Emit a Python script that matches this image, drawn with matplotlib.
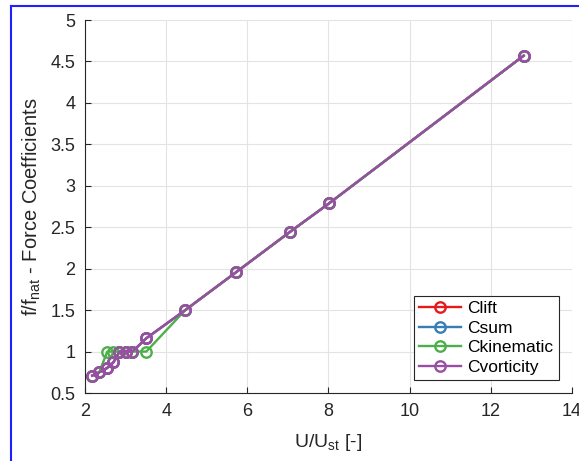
import numpy as np
import matplotlib
matplotlib.use("Agg")
import matplotlib.pyplot as plt
from matplotlib.lines import Line2D

plt.rcParams['font.family'] = ['Liberation Sans', 'DejaVu Sans']
plt.rcParams['mathtext.fontset'] = 'custom'
plt.rcParams['mathtext.rm'] = 'Liberation Sans'
plt.rcParams['mathtext.it'] = 'Liberation Sans:italic'

# data
u_vort = [2.18, 2.35, 2.54, 2.70, 2.85, 3.00, 3.17, 3.51, 4.47, 5.73, 7.04, 8.02, 12.81]
f_vort = [0.71, 0.75, 0.80, 0.87, 1.00, 1.00, 1.00, 1.16, 1.50, 1.96, 2.44, 2.79, 4.57]

u_kin = [2.18, 2.35, 2.55, 2.68, 2.85, 3.00, 3.17, 3.51, 4.47, 5.73, 7.04, 8.02, 12.81]
f_kin = [0.71, 0.75, 1.00, 1.00, 1.00, 1.00, 1.00, 1.00, 1.50, 1.96, 2.44, 2.79, 4.57]

u_lift = u_vort
f_lift = f_vort
u_sum = u_vort
f_sum = f_vort

series = [
    ('Clift', u_lift, f_lift, '#e41a1c'),
    ('Csum', u_sum, f_sum, '#377eb8'),
    ('Ckinematic', u_kin, f_kin, '#4daf4a'),
    ('Cvorticity', u_vort, f_vort, '#984ea3'),
]

fig = plt.figure(figsize=(5.79, 4.61), dpi=100)
ax = fig.add_axes([0.1468, 0.1475, 0.841, 0.809])

for name, u, f, c in series:
    ax.plot(u, f, '-o', color=c, lw=1.7, ms=7.5, mfc='none', mew=1.7, label=name)

ax.set_xlim(2, 14)
ax.set_ylim(0.5, 5)
ax.set_xticks(np.arange(2, 15, 2))
ax.set_yticks(np.arange(0.5, 5.01, 0.5))
ax.set_yticklabels(['0.5', '1', '1.5', '2', '2.5', '3', '3.5', '4', '4.5', '5'])
ax.grid(True, color='#e3e3e3', lw=0.8)
ax.set_axisbelow(True)
ax.spines['top'].set_visible(False)
ax.spines['right'].set_visible(False)
for s in ('left', 'bottom'):
    ax.spines[s].set_color('#262626')
    ax.spines[s].set_linewidth(0.8)
ax.tick_params(direction='in', length=4, colors='#262626', labelsize=13, pad=7)

ax.set_xlabel(r'U/U$_{\mathrm{st}}$ [-]', fontsize=14, color='#262626', labelpad=9)
ax.set_ylabel(r'f/f$_{\mathrm{nat}}$ - Force Coefficients', fontsize=14.5, color='#262626',
              labelpad=5)

leg = ax.legend(loc='lower right', bbox_to_anchor=(0.973, 0.035), fontsize=12.5,
                frameon=True, fancybox=False, edgecolor='#262626', framealpha=1,
                handlelength=2.4, borderpad=0.3, labelspacing=0.25, handletextpad=0.4,
                borderaxespad=0)
leg.get_frame().set_linewidth(0.8)

# blue frame around the figure
fig.add_artist(Line2D([10.5 / 579, 10.5 / 579], [0, 1 - 6 / 461], transform=fig.transFigure,
                      color='#1f1fff', lw=1.5))
fig.add_artist(Line2D([10.5 / 579, 1], [1 - 6 / 461, 1 - 6 / 461], transform=fig.transFigure,
                      color='#1f1fff', lw=1.5))

fig.savefig('out.png', dpi=100)
